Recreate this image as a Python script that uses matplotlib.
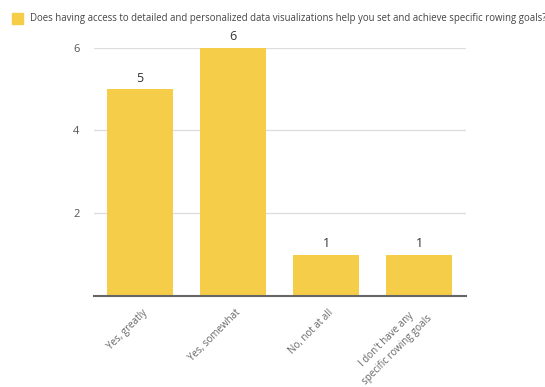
import matplotlib
matplotlib.use("Agg")
import matplotlib.pyplot as plt
from matplotlib.patches import Rectangle
from matplotlib.transforms import ScaledTranslation

categories = ["Yes, greatly", "Yes, somewhat", "No, not at all",
              "I don't have any\nspecific rowing goals"]
values = [5, 6, 1, 1]
y_ticks = [2, 4, 6]
series_name = ("Does having access to detailed and personalized data "
               "visualizations help you set and achieve specific rowing goals?")

bar_color = "#F6CD48"
text_color = "#555555"

plt.rcParams["font.family"] = ["Open Sans", "DejaVu Sans"]

W, H = 545, 387
fig = plt.figure(figsize=(W / 100, H / 100), dpi=100)
ax = fig.add_axes([93.5 / W, 1 - 296 / H, 372 / W, 248.5 / H])

x = list(range(len(categories)))
ax.bar(x, values, width=0.71, color=bar_color, zorder=3)
for xi, v in zip(x, values):
    ax.text(xi, v + 0.1, str(v), ha="center", va="bottom",
            fontsize=9, color="#333333", zorder=4)

ax.set_xlim(-0.5, len(categories) - 0.5)
ax.set_ylim(0, 6)
ax.set_yticks(y_ticks)
ax.set_yticklabels([str(t) for t in y_ticks], fontsize=8, color=text_color)
ax.yaxis.grid(True, color="#dddddd", linewidth=0.9, zorder=0)
ax.tick_params(axis="y", length=0, pad=10)
ax.tick_params(axis="x", length=0, pad=11)
ax.set_xticks(x)
ax.set_xticklabels(categories, rotation=45, ha="right", va="center",
                   rotation_mode="anchor", fontsize=7, color="#666666",
                   linespacing=1.4, multialignment="center")
shift = ScaledTranslation(6 / 100, 0, fig.dpi_scale_trans)
for lbl in ax.get_xticklabels():
    lbl.set_transform(lbl.get_transform() + shift)

for side in ("top", "right", "left"):
    ax.spines[side].set_visible(False)
ax.spines["bottom"].set_color("#666666")
ax.spines["bottom"].set_linewidth(1.5)
ax.spines["bottom"].set_zorder(5)

# legend entry above the plot
fig.patches.append(Rectangle((12 / W, 1 - 24 / H), 11 / W, 11 / H,
                             transform=fig.transFigure, color=bar_color))
fig.text(29.5 / W, 1 - 18.5 / H, series_name, ha="left", va="center",
         fontsize=6.95, color="#444444")

fig.savefig("out.png", dpi=100)
